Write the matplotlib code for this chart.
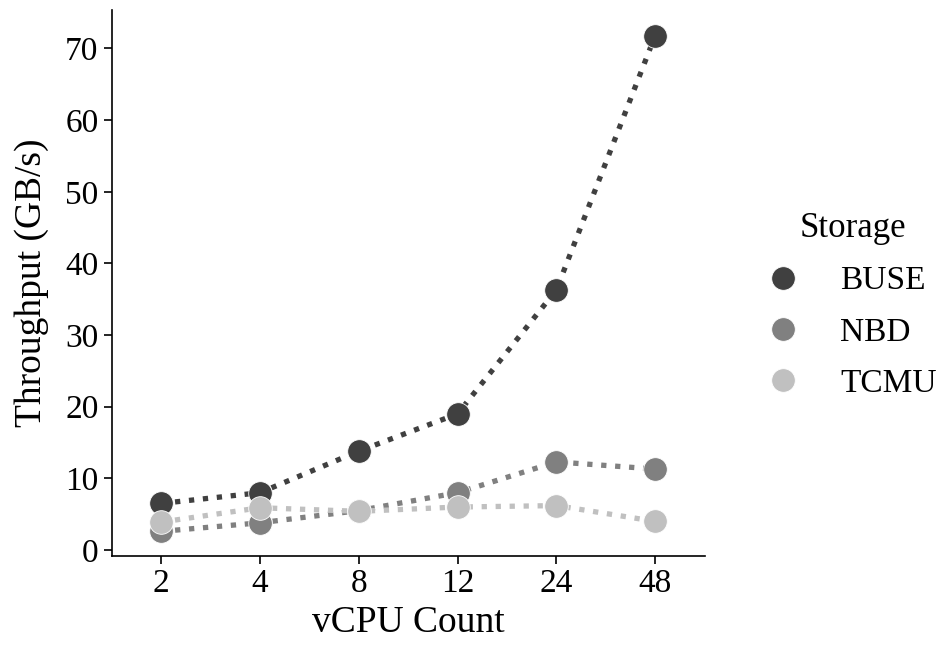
import matplotlib
matplotlib.use("Agg")
import matplotlib.pyplot as plt
from matplotlib.lines import Line2D

plt.rcParams['font.family'] = ['Liberation Serif', 'DejaVu Serif']

vcpus = ['2', '4', '8', '12', '24', '48']
buse = [6.5, 8.0, 13.8, 19.0, 36.3, 71.8]
nbd = [2.6, 3.8, 5.5, 8.0, 12.3, 11.3]
tcmu = [3.9, 5.9, 5.4, 6.0, 6.2, 4.0]

series = [('BUSE', buse, '#404040'), ('NBD', nbd, '#808080'), ('TCMU', tcmu, '#c0c0c0')]

fig = plt.figure(figsize=(9.47, 6.5), dpi=100)
ax = fig.add_axes([0.118, 0.145, 0.626, 0.84])

x = list(range(len(vcpus)))
handles = []
for name, vals, col in series:
    ax.plot(x, vals, linestyle=':', linewidth=3.8, color=col)
    ax.plot(x, vals, linestyle='none', marker='o', markersize=17, color=col,
            markeredgecolor='white', markeredgewidth=0.6)
    handles.append(Line2D([], [], linestyle='none', marker='o', markersize=17, color=col,
                          markeredgecolor='white', markeredgewidth=0.6))

ax.set_xticks(x)
ax.set_xticklabels(vcpus)
ax.set_xlim(-0.5, 5.5)
ax.set_ylim(-0.8, 75.4)
ax.set_yticks(range(0, 71, 10))
ax.tick_params(labelsize=24, length=6, width=1.2, direction='out')
ax.spines['top'].set_visible(False)
ax.spines['right'].set_visible(False)
ax.spines['left'].set_linewidth(1.2)
ax.spines['bottom'].set_linewidth(1.2)
ax.set_xlabel('vCPU Count', fontsize=27, labelpad=4)
ax.set_ylabel('Throughput (GB/s)', fontsize=27, labelpad=12)

leg = fig.legend(handles, [s[0] for s in series], title='Storage', loc='center left',
                 bbox_to_anchor=(770 / 947, 0.53), frameon=False, fontsize=24,
                 title_fontsize=25, handlelength=0.8, handletextpad=1.3,
                 labelspacing=0.62, borderpad=0, borderaxespad=0)

fig.savefig('out.png', dpi=100)
